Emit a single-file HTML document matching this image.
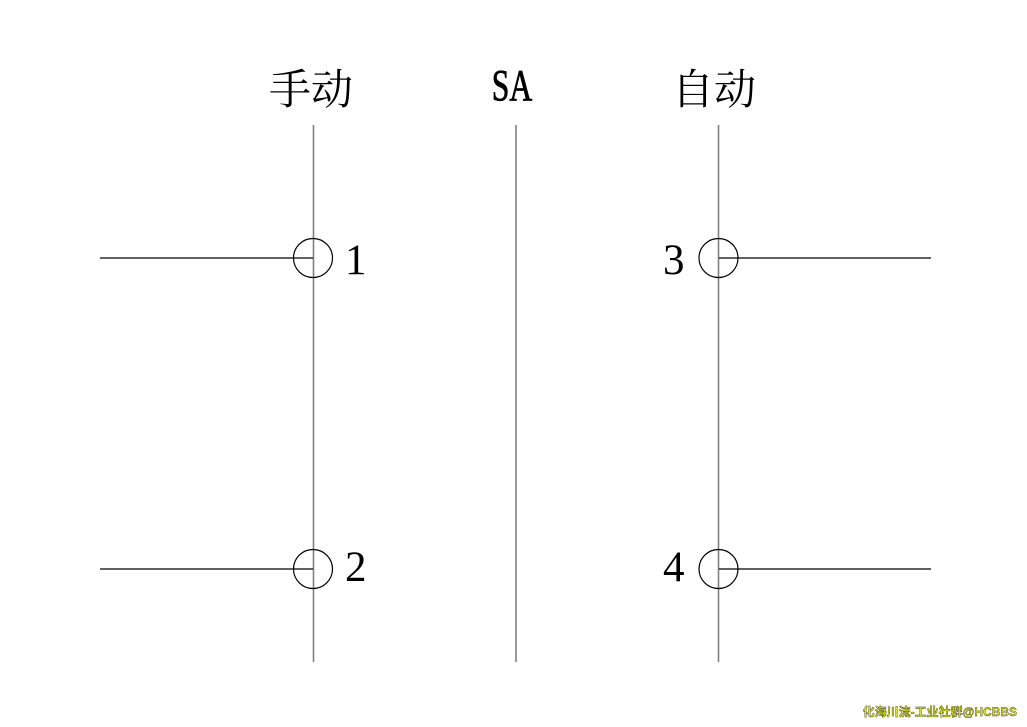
<!DOCTYPE html>
<html><head><meta charset="utf-8"><style>
html,body{margin:0;padding:0;background:#fff;width:1027px;height:727px;overflow:hidden}
</style></head><body>
<svg width="1027" height="727" viewBox="0 0 1027 727" xmlns="http://www.w3.org/2000/svg">
<g stroke="#808080" stroke-width="1.6">
<line x1="313.5" y1="125" x2="313.5" y2="662"/>
<line x1="516" y1="125" x2="516" y2="662"/>
<line x1="718.5" y1="125" x2="718.5" y2="662"/>
</g>
<g stroke="#000" stroke-width="1.2" fill="none">
<line x1="100" y1="258" x2="313" y2="258"/>
<line x1="100" y1="569" x2="313" y2="569"/>
<line x1="719" y1="258" x2="931" y2="258"/>
<line x1="719" y1="569" x2="931" y2="569"/>
<circle cx="313" cy="258" r="19.5"/>
<circle cx="313" cy="569" r="19.5"/>
<circle cx="718.5" cy="258" r="19.5"/>
<circle cx="718.5" cy="569" r="19.5"/>
</g>
<g font-family="'Noto Serif CJK SC','Noto Sans CJK SC',serif" font-size="42" fill="#000">
<text x="311" y="104" text-anchor="middle">手动</text>
<text x="714" y="104" text-anchor="middle">自动</text>
</g>
<text x="0" y="0" font-family="'Liberation Serif',serif" font-size="44" stroke="#000" stroke-width="0.8" transform="translate(512,100) scale(0.72,1)" text-anchor="middle">SA</text>
<g font-family="'Liberation Serif',serif" font-size="43" fill="#000">
<text x="345" y="274">1</text>
<text x="345" y="581">2</text>
<text x="663" y="274">3</text>
<text x="663" y="581">4</text>
</g>
<text x="1017" y="716" text-anchor="end" font-family="'Liberation Sans','Noto Sans CJK SC',sans-serif" font-size="12" font-weight="bold" fill="#d8e030" stroke="#3a3a00" stroke-width="0.4">化海川流-工业社群@HCBBS</text>
</svg>
</body></html>
